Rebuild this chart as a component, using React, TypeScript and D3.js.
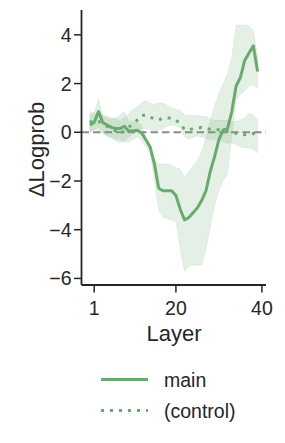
import * as d3 from "d3";

// layers 0..39 (ticks labelled 1, 20, 40)
const layers = d3.range(40);

const mainMean = [
  0.3, 0.4, 0.85, 0.4, 0.3, 0.2, 0.15, 0.15, 0.25, 0.05,
  0.05, 0.08, -0.02, -0.3, -0.6, -1.3, -2.3, -2.4, -2.4, -2.4,
  -2.6, -3.15, -3.6, -3.5, -3.3, -3.1, -2.8, -2.4, -1.6, -1.0,
  -0.3, 0.1, 0.15, 0.85, 1.9, 2.25, 2.95, 3.25, 3.55, 2.5,
];
const mainUpper = [
  0.7, 0.8, 1.4, 0.7, 0.6, 0.55, 0.6, 0.7, 0.85, 0.45,
  0.45, 0.4, 0.3, -0.2, -0.7, -1.1, -1.3, -1.3, -1.3, -1.35,
  -1.45, -1.5, -1.85, -1.6, -1.35, -1.15, -0.8, -0.2, 0.5, 1.1,
  1.6, 2.0, 2.4, 3.1, 4.4, 4.4, 4.4, 4.35, 4.2, 3.1,
];
const mainLower = [
  0.0, 0.1, 0.2, 0.0, -0.15, -0.2, -0.3, -0.3, -0.4, -0.4,
  -0.3, -0.2, -0.35, -0.6, -0.8, -2.0, -3.2, -3.5, -3.55, -3.6,
  -3.65, -4.8, -5.72, -5.5, -5.45, -5.45, -5.45, -4.8, -3.9, -3.0,
  -2.4, -2.0, -1.7, -0.2, 1.3, 1.55, 1.7, 1.9, 1.95, 1.8,
];
const ctrlMean = [
  0.4, 0.5, 0.45, 0.35, 0.25, 0.15, 0.05, -0.05, 0.05, 0.2,
  0.35, 0.5, 0.7, 0.7, 0.62, 0.55, 0.5, 0.58, 0.6, 0.57,
  0.5, 0.35, 0.12, 0.1, 0.15, 0.18, 0.2, 0.17, 0.12, 0.1,
  0.1, 0.06, 0.03, 0.0, -0.04, -0.08, -0.1, -0.05, -0.05, -0.18,
];
const ctrlUpper = [
  0.85, 0.8, 0.75, 0.7, 0.65, 0.6, 0.55, 0.5, 0.6, 0.75,
  0.95, 1.05, 1.2, 1.3, 1.2, 1.15, 1.2, 1.2, 1.1, 1.0,
  0.95, 0.9, 0.7, 0.7, 0.7, 0.7, 0.65, 0.65, 0.55, 0.5,
  0.5, 0.5, 0.5, 0.45, 0.45, 0.5, 0.6, 0.8, 0.7, 0.5,
];
const ctrlLower = [
  0.0, 0.1, 0.05, -0.05, -0.15, -0.25, -0.35, -0.45, -0.35, -0.2,
  -0.05, 0.05, 0.15, 0.15, 0.1, 0.05, 0.1, 0.15, 0.25, 0.3,
  0.25, 0.2, -0.2, -0.3, -0.2, -0.15, -0.2, -0.25, -0.3, -0.3,
  -0.35, -0.4, -0.45, -0.45, -0.5, -0.6, -0.65, -0.65, -0.7, -0.85,
];

const xTicks = [1, 20, 40];
const yTicks = [-6, -4, -2, 0, 2, 4];
const legendLabels = ["main", "(control)"];

const green = "#6aaa6f";
const ink = "#262626";
const font = "'Liberation Sans', Arial, sans-serif";

export default function App() {
  const W = 285;
  const H = 443;
  const left = 81.5;
  const right = 266;
  const top = 10;
  const bottom = 285;

  const x = d3.scaleLinear().domain([-1.95, 40.95]).range([left, right]);
  const y = d3.scaleLinear().domain([-6.27, 5.02]).range([bottom, top]);

  const line = (vals: number[]) =>
    d3
      .line<number>()
      .x((_, i) => x(layers[i]))
      .y((d) => y(d))(vals) as string;

  const band = (lo: number[], hi: number[]) =>
    d3
      .area<number>()
      .x((_, i) => x(layers[i]))
      .y0((_, i) => y(lo[i]))
      .y1((_, i) => y(hi[i]))(layers) as string;

  return (
    <svg
      width={W}
      height={H}
      style={{ position: "absolute", left: 0, top: 0, background: "#fff" }}
      fontFamily={font}
    >
      {/* confidence bands */}
      <path d={band(mainLower, mainUpper)} fill={green} fillOpacity={0.18} stroke={green} strokeOpacity={0.1} />
      <path d={band(ctrlLower, ctrlUpper)} fill={green} fillOpacity={0.18} stroke={green} strokeOpacity={0.1} />

      {/* zero reference */}
      <line x1={left} x2={right} y1={y(0)} y2={y(0)} stroke="#8c8c8c" strokeWidth={2} strokeDasharray="7.5,4" />

      <path d={line(ctrlMean)} fill="none" stroke={green} strokeWidth={3} strokeDasharray="3,6" />
      <path d={line(mainMean)} fill="none" stroke={green} strokeWidth={3} strokeLinejoin="round" />

      {/* spines */}
      <line x1={left} x2={left} y1={top} y2={bottom} stroke={ink} strokeWidth={1.8} />
      <line x1={left} x2={right} y1={bottom} y2={bottom} stroke={ink} strokeWidth={1.8} />

      {yTicks.map((t) => (
        <g key={t} transform={`translate(${left},${y(t)})`}>
          <line x1={-7.5} x2={0} stroke={ink} strokeWidth={1.5} />
          <text x={-10} dy="0.36em" textAnchor="end" fontSize={19.5} fill={ink}>
            {t < 0 ? "\u2212" + Math.abs(t) : t}
          </text>
        </g>
      ))}
      {xTicks.map((t) => (
        <g key={t} transform={`translate(${x(t)},${bottom})`}>
          <line y1={0} y2={7.5} stroke={ink} strokeWidth={1.5} />
          <text y={29.5} textAnchor="middle" fontSize={19.5} fill={ink}>
            {t}
          </text>
        </g>
      ))}

      <text x={174} y={341} textAnchor="middle" fontSize={22} fill={ink}>
        Layer
      </text>
      <text
        transform={`translate(44,${(top + bottom) / 2 + 2}) rotate(-90)`}
        textAnchor="middle"
        fontSize={22}
        fill={ink}
      >
        ΔLogprob
      </text>

      {/* legend */}
      {legendLabels.map((l, i) => (
        <g key={l} transform={`translate(101,${379.5 + i * 31})`}>
          <line
            x1={0}
            x2={47}
            stroke={green}
            strokeWidth={3}
            strokeDasharray={i === 0 ? undefined : "3,6"}
          />
          <text x={63} dy="0.36em" fontSize={19.5} fill={ink}>
            {l}
          </text>
        </g>
      ))}
    </svg>
  );
}
